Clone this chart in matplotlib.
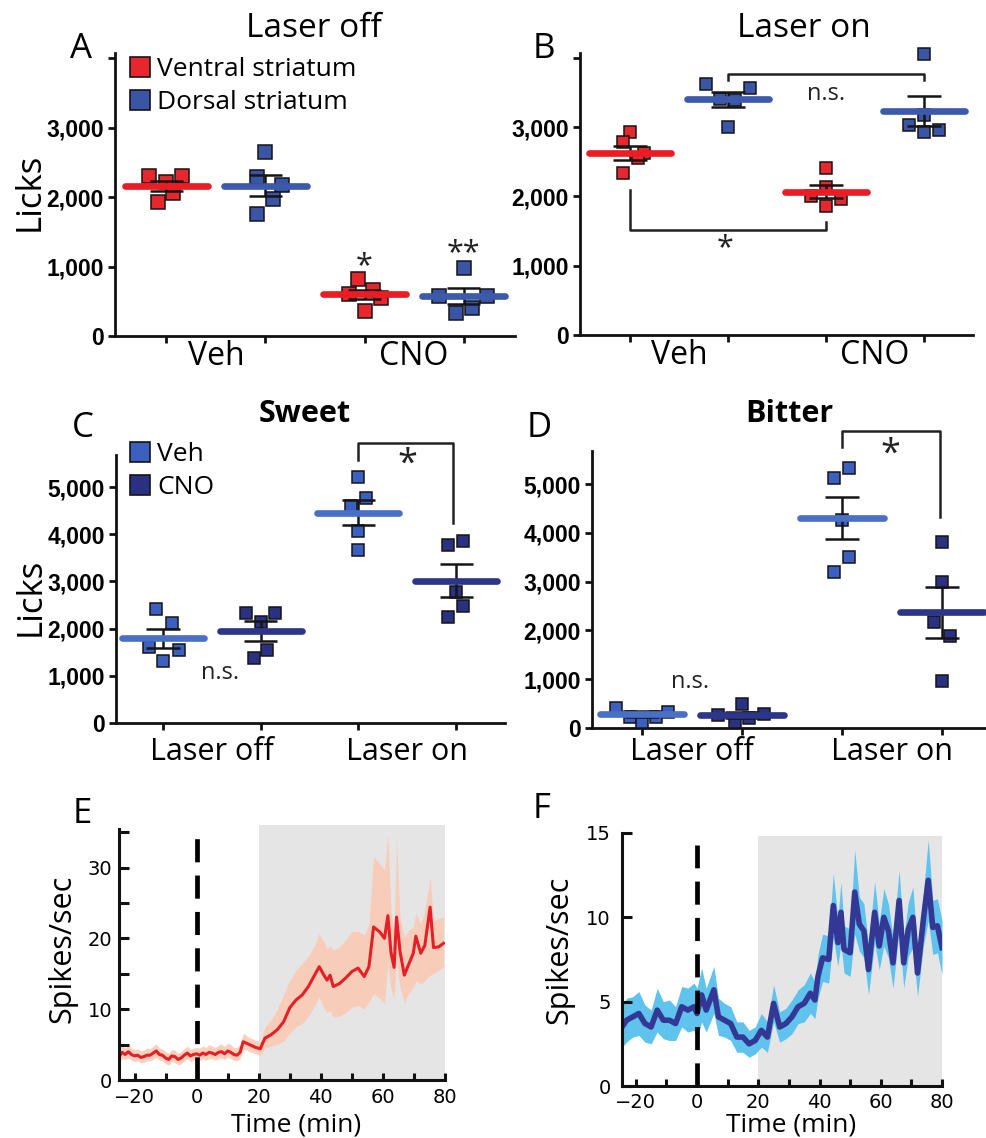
import matplotlib
matplotlib.use('Agg')
import matplotlib.pyplot as plt
from matplotlib.lines import Line2D
from matplotlib.ticker import FixedLocator, MultipleLocator, NullFormatter
import numpy as np

# ------------------------------------------------------------------ data
# Panel A : Laser off  (order: Veh-ventral, Veh-dorsal, CNO-ventral, CNO-dorsal)
a_values = [[2306, 2220, 2306, 1932, 2062],
            [2648, 2288, 2172, 1971, 1755],
            [820, 660, 600, 550, 360],
            [980, 575, 575, 403, 331]]
a_jitter = [[-0.18, 0.0, 0.16, -0.09, 0.07],
            [0.0, -0.09, 0.17, 0.08, -0.09],
            [-0.07, 0.09, -0.16, 0.17, 0.0],
            [0.0, -0.25, 0.24, 0.09, -0.08]]
a_means = [2160, 2160, 600, 575]
a_sems = [70, 150, 65, 110]

# Panel B : Laser on
b_values = [[2930, 2785, 2620, 2550, 2337],
            [3620, 3560, 3400, 3390, 3000],
            [2410, 2130, 2000, 1960, 1860],
            [4050, 3170, 3030, 2960, 2930]]
b_jitter = [[0.0, -0.07, 0.14, 0.08, -0.07],
            [-0.22, 0.22, -0.08, 0.07, 0.0],
            [0.0, 0.0, -0.15, 0.15, 0.0],
            [0.0, 0.0, -0.15, 0.15, 0.0]]
b_means = [2630, 3400, 2070, 3230]
b_sems = [100, 110, 95, 215]

# Panel C : Sweet  (order: Off-Veh, Off-CNO, On-Veh, On-CNO)
c_values = [[2415, 2118, 1617, 1547, 1313],
            [2330, 2330, 2140, 1547, 1377],
            [5210, 4770, 4600, 4070, 3665],
            [3860, 3770, 2770, 2480, 2250]]
c_jitter = [[-0.07, 0.09, -0.14, 0.16, 0.0],
            [-0.15, 0.15, 0.0, 0.07, -0.07],
            [0.0, 0.08, -0.08, 0.0, 0.0],
            [0.07, -0.08, 0.0, 0.07, -0.08]]
c_means = [1800, 1950, 4460, 3020]
c_sems = [200, 205, 265, 345]

# Panel D : Bitter
d_values = [[410, 230, 130, 225, 335],
            [490, 265, 130, 210, 280],
            [5330, 5120, 4270, 3500, 3200],
            [3810, 2990, 2170, 1880, 960]]
d_jitter = [[-0.26, -0.12, 0.0, 0.14, 0.26],
            [0.0, -0.24, -0.07, 0.07, 0.22],
            [0.07, -0.08, 0.0, 0.07, -0.08],
            [0.0, 0.0, -0.08, 0.08, 0.0]]
d_means = [285, 270, 4300, 2370]
d_sems = [60, 65, 430, 530]

ab_groups = ['Veh', 'CNO']
cd_groups = ['Laser off', 'Laser on']
ab_series = ['Ventral striatum', 'Dorsal striatum']
cd_series = ['Veh', 'CNO']
licks_ticks_ab = [0, 1000, 2000, 3000, 4000]
licks_labels_ab = ['0', '1,000', '2,000', '3,000', '']
licks_ticks_cd = [0, 1000, 2000, 3000, 4000, 5000]
licks_labels_cd = ['0', '1,000', '2,000', '3,000', '4,000', '5,000']

# Panel E : ventral striatum firing rate (Spikes/sec) vs time (min)
e_time = [-25, -24, -23, -22, -21, -20, -19, -18, -17, -16, -15, -14, -13, -12, -11, -10, -9, -8, -7, -6,
          -5, -4, -3, -2, -1, 0, 1, 2, 3, 4, 5, 6, 7, 8, 9, 10, 11, 12, 13, 14,
          15, 17, 19, 20.5, 22, 24, 26, 28, 30, 32, 34, 36, 38, 39.5, 41, 42, 43, 44, 46, 48,
          50, 52, 54, 55.5, 57, 59, 60.5, 61.6, 62.6, 63.6, 64.4, 65.5, 66.9, 68, 69.8, 70.6,
          72.2, 73.5, 75.2, 76.3, 78, 79.5]
e_mean = [3.3, 3.9, 3.6, 4.0, 3.6, 3.4, 3.5, 3.2, 3.3, 3.5, 3.5, 3.8, 4.1, 3.6, 3.5, 3.1, 2.9, 3.4, 3.3, 2.9,
          3.1, 3.5, 3.8, 3.4, 3.6, 3.7, 3.5, 3.8, 3.6, 3.9, 3.8, 3.6, 3.9, 4.0, 3.7, 4.1, 3.9, 3.6, 3.5, 3.9,
          5.4, 5.0, 4.6, 4.4, 5.9, 6.4, 7.1, 8.2, 10.2, 11.3, 12.0, 13.2, 14.8, 16.0, 14.8, 14.1, 14.8, 13.2, 13.6, 14.4,
          15.3, 15.8, 14.6, 16.0, 21.6, 20.9, 20.0, 23.2, 18.0, 15.9, 23.0, 18.2, 14.8, 16.0, 17.9, 20.3,
          17.9, 19.0, 24.4, 18.7, 18.8, 19.3]
e_low = [2.6, 3.0, 2.9, 3.1, 2.8, 2.6, 2.7, 2.4, 2.5, 2.7, 2.7, 2.9, 3.2, 2.8, 2.7, 2.3, 2.1, 2.6, 2.5, 2.1,
         2.3, 2.7, 3.0, 2.6, 2.8, 2.9, 2.7, 3.0, 2.8, 3.0, 3.0, 2.8, 3.0, 3.1, 2.9, 3.2, 3.0, 2.8, 2.7, 3.0,
         4.4, 4.0, 3.7, 3.5, 4.5, 4.8, 5.0, 5.5, 6.6, 7.5, 8.0, 9.0, 10.5, 11.7, 10.2, 9.5, 9.8, 8.9, 9.0, 9.5,
         10.3, 10.5, 10.0, 11.0, 12.2, 11.5, 10.8, 16.4, 12.7, 11.5, 16.9, 13.0, 11.0, 12.0, 13.1, 14.0,
         13.5, 14.0, 14.8, 15.0, 15.5, 15.9]
e_high = [4.2, 4.9, 4.5, 5.0, 4.5, 4.3, 4.4, 4.1, 4.2, 4.5, 4.4, 4.8, 5.1, 4.5, 4.4, 4.0, 3.8, 4.3, 4.2, 3.8,
          4.0, 4.4, 4.8, 4.3, 4.5, 4.6, 4.5, 4.8, 4.6, 5.0, 4.8, 4.6, 4.9, 5.1, 4.7, 5.2, 5.0, 4.6, 4.6, 5.0,
          6.6, 6.0, 5.6, 5.4, 7.5, 8.5, 10.0, 12.0, 14.1, 15.5, 16.5, 17.5, 19.0, 20.7, 19.5, 18.5, 19.0, 18.3, 18.8, 19.8,
          21.0, 21.0, 20.5, 22.0, 31.5, 30.5, 29.6, 34.7, 24.0, 21.0, 33.8, 23.0, 20.0, 21.0, 21.6, 23.5,
          22.0, 24.0, 28.7, 22.5, 22.8, 23.0]

# Panel F : dorsal striatum firing rate
f_time = [-24.5, -23, -21, -19, -17, -15, -13, -11, -9, -7, -5, -3, -1, 0, 1.5, 3, 5.5, 7, 9, 11,
          13, 15, 17, 19, 21, 23, 25, 27, 29, 31, 33, 35, 37, 38.5, 39.5, 41, 43, 44.5, 46, 47,
          48, 50, 51.5, 53, 54.5, 56, 58, 59.5, 61, 62.5, 64, 66, 67.5, 69, 70.5, 72, 74, 75.5, 77, 78.5, 80]
f_mean = [3.5, 3.9, 4.1, 4.3, 3.7, 3.5, 4.5, 3.9, 3.9, 3.7, 4.7, 4.5, 4.7, 4.3, 5.4, 4.5, 5.7, 4.1, 3.9, 3.7,
          2.9, 2.9, 2.5, 2.7, 3.3, 2.9, 4.9, 3.5, 3.7, 4.1, 4.7, 4.9, 5.5, 5.1, 6.5, 7.6, 7.5, 10.7, 8.5, 10.3,
          8.1, 7.9, 11.5, 9.6, 9.2, 6.9, 10.3, 8.3, 10.0, 9.2, 7.3, 11.0, 7.3, 9.3, 10.0, 6.7, 10.0, 12.2, 9.4, 9.5, 8.2]
f_sem = [1.2, 1.3, 1.2, 1.3, 1.1, 1.0, 1.3, 1.1, 1.2, 1.0, 1.2, 1.3, 1.4, 1.5, 1.6, 1.3, 1.4, 1.1, 1.0, 1.0,
         0.9, 0.9, 0.8, 0.8, 1.0, 0.9, 1.1, 0.9, 0.9, 1.0, 1.0, 1.1, 1.2, 1.1, 1.3, 1.4, 1.4, 1.9, 1.4, 1.8,
         1.4, 1.4, 2.5, 1.6, 1.6, 1.5, 1.8, 1.4, 1.7, 1.6, 1.5, 1.8, 1.5, 1.6, 1.8, 1.4, 1.6, 2.4, 1.6, 1.6, 1.6]

# ------------------------------------------------------------------ style
FONT = 'Open Sans'
TICKFONT = 'Liberation Sans'
RED = '#e8262d'
BLUE = '#3b55a6'
VEH = '#3b60bf'
CNO = '#2a3183'
EDGE = '#151515'

W, H = 987, 1138
fig = plt.figure(figsize=(W / 100, H / 100), dpi=100)


def add_ax(l, t, r, b):
    return fig.add_axes([l / W, 1 - b / H, (r - l) / W, (b - t) / H])


def ftext(x, y, s, **kw):
    kw.setdefault('family', FONT)
    return fig.text(x / W, 1 - y / H, s, **kw)


def dot_panel(ax, values, jitter, means, sems, colors, mean_colors, ms):
    for i in range(len(values)):
        xs = i + np.array(jitter[i])
        ax.plot(xs, values[i], ls='none', marker='s', ms=ms, mfc=colors[i], mec=EDGE,
                mew=1.1, zorder=3, clip_on=False)
        m, s = means[i], sems[i]
        ax.vlines(i, m - s, m + s, color=EDGE, lw=1.8, zorder=4)
        ax.hlines([m - s, m + s], i - 0.17, i + 0.17, color=EDGE, lw=1.8, zorder=4)
        ax.plot([i - 0.42, i + 0.42], [m, m], color=mean_colors[i], lw=4.8,
                solid_capstyle='round', zorder=5)


def style_licks(ax, xlim, ymax, ticks, labels, groups, grp_size, grp_pad):
    ax.set_xlim(*xlim)
    ax.set_ylim(0, ymax)
    for s in ['top', 'right']:
        ax.spines[s].set_visible(False)
    for s in ['left', 'bottom']:
        ax.spines[s].set_linewidth(2.0)
        ax.spines[s].set_color('#111111')
    ax.set_yticks(ticks)
    ax.set_yticklabels(labels, family=TICKFONT, weight='bold', fontsize=16.5)
    ax.set_xticks([0, 1, 2, 3])
    ax.set_xticklabels([])
    ax.set_xticks([0.5, 2.5], minor=True)
    ax.set_xticklabels(groups, minor=True, family=FONT, fontsize=grp_size, va='baseline')
    ax.tick_params(which='major', direction='out', length=5, width=2, color='#111111', pad=3)
    ax.tick_params(axis='x', which='minor', length=0, pad=grp_pad)


# ------------------------------------------------------------------ A
axA = add_ax(115, 53, 515, 336)
dot_panel(axA, a_values, a_jitter, a_means, a_sems, [RED, BLUE, RED, BLUE],
          ['#ec1c24', '#3c59ab', '#ec1c24', '#3c59ab'], 10.5)
style_licks(axA, (-0.52, 3.52), 4072, licks_ticks_ab, licks_labels_ab, ab_groups, 23, 21)
axA.text(2, 1000, '*', ha='center', va='center', fontsize=22, family=FONT, color='#222')
axA.text(3, 1190, '**', ha='center', va='center', fontsize=22, family=FONT, color='#222')
hA = [Line2D([], [], ls='none', marker='s', ms=15, mfc=c, mec=EDGE, mew=1.2) for c in [RED, BLUE]]
axA.legend(hA, ab_series, loc='upper left', bbox_to_anchor=(128 / W, 1 - 57 / H),
           bbox_transform=fig.transFigure, frameon=False, borderpad=0, borderaxespad=0,
           handlelength=0.9, handletextpad=0.2, labelspacing=0.3,
           prop={'family': FONT, 'size': 19})

# ------------------------------------------------------------------ B
axB = add_ax(580, 53, 973, 335)
dot_panel(axB, b_values, b_jitter, b_means, b_sems, [RED, BLUE, RED, BLUE],
          ['#ec1c24', '#3c59ab', '#ec1c24', '#3c59ab'], 9)
style_licks(axB, (-0.51, 3.5), 4070, licks_ticks_ab, licks_labels_ab, ab_groups, 23, 21)
axB.plot([1, 1, 3, 3], [3680, 3765, 3765, 3680], color='#222', lw=1.8, clip_on=False)
axB.text(2.0, 3480, 'n.s.', ha='center', va='center', fontsize=17, family=FONT, color='#222')
axB.plot([0, 0, 2, 2], [2090, 1515, 1515, 1630], color='#222', lw=1.8, clip_on=False)
axB.text(0.97, 1250, '*', ha='center', va='center', fontsize=22, family=FONT, color='#222')

# ------------------------------------------------------------------ C
axC = add_ax(116, 455, 505, 723)
dot_panel(axC, c_values, c_jitter, c_means, c_sems, [VEH, CNO, VEH, CNO],
          ['#4a6fc6', '#2d3589', '#4a6fc6', '#2d3589'], 9)
style_licks(axC, (-0.48, 3.5), 5680, licks_ticks_cd, licks_labels_cd, cd_groups, 22, 27)
axC.plot([2, 2, 2.97, 2.97], [5570, 5930, 5930, 4240], color='#222', lw=1.8, clip_on=False)
axC.text(2.5, 5470, '*', ha='center', va='center', fontsize=26, family=FONT, color='#222')
axC.text(0.58, 1060, 'n.s.', ha='center', va='center', fontsize=17, family=FONT, color='#222')
hC = [Line2D([], [], ls='none', marker='s', ms=15, mfc=c, mec=EDGE, mew=1.2) for c in [VEH, CNO]]
axC.legend(hC, cd_series, loc='upper left', bbox_to_anchor=(128 / W, 1 - 442 / H),
           bbox_transform=fig.transFigure, frameon=False, borderpad=0, borderaxespad=0,
           handlelength=0.9, handletextpad=0.2, labelspacing=0.3,
           prop={'family': FONT, 'size': 19})

# ------------------------------------------------------------------ D
axD = add_ax(592, 451, 987, 728)
dot_panel(axD, d_values, d_jitter, d_means, d_sems, [VEH, CNO, VEH, CNO],
          ['#4a6fc6', '#2d3589', '#4a6fc6', '#2d3589'], 9)
style_licks(axD, (-0.5, 3.45), 5680, licks_ticks_cd, licks_labels_cd, cd_groups, 22, 23)
axD.plot([2, 2, 2.98, 2.98], [5760, 6090, 6090, 4320], color='#222', lw=1.8, clip_on=False)
axD.text(2.48, 5600, '*', ha='center', va='center', fontsize=26, family=FONT, color='#222')
axD.text(0.48, 940, 'n.s.', ha='center', va='center', fontsize=17, family=FONT, color='#222')


# ------------------------------------------------------------------ E / F
def style_time(ax, xmin, ymax, ybound, ymajor, yminor, ypad, xpad):
    ax.set_xlim(xmin, 80)
    ax.set_ylim(0, ymax)
    for s in ['top', 'right']:
        ax.spines[s].set_visible(False)
    for s in ['left', 'bottom']:
        ax.spines[s].set_linewidth(2.2)
        ax.spines[s].set_color('#111111')
        ax.spines[s].set_zorder(6)
    ax.spines['left'].set_bounds(0, ybound)
    ax.xaxis.set_major_locator(FixedLocator([-20, 0, 20, 40, 60, 80]))
    ax.xaxis.set_minor_locator(FixedLocator([-10, 10, 30, 50, 70]))
    ax.yaxis.set_major_locator(MultipleLocator(ymajor))
    ax.yaxis.set_minor_locator(MultipleLocator(yminor))
    ax.yaxis.set_minor_formatter(NullFormatter())
    ax.tick_params(which='both', direction='in', width=2.2, color='#111111', labelsize=14)
    ax.tick_params(axis='x', which='both', length=5, pad=xpad)
    ax.tick_params(axis='y', which='both', length=7, pad=ypad)
    for lab in ax.get_xticklabels() + ax.get_yticklabels():
        lab.set_family('DejaVu Sans')
    ax.set_axisbelow(False)


axE = add_ax(119, 825, 445, 1080)
axE.axvspan(20, 80, color='#e5e5e5', lw=0, zorder=0)
axE.fill_between(e_time, e_low, e_high, color='#fbc9b3', alpha=0.85, lw=0, zorder=1)
axE.plot(e_time, e_mean, color='#e51f26', lw=2.2, zorder=2)
axE.plot([0, 0], [0, 35.6], color='black', lw=3.4, ls=(0, (4.9, 2.8)), zorder=3, clip_on=False)
style_time(axE, -25, 36, 35.4, 10, 5, 5, 6)

axF = add_ax(622, 833, 942, 1086)
axF.axvspan(20, 80, ymax=14.85 / 15, color='#e5e5e5', lw=0, zorder=0)
axF.fill_between(f_time, np.array(f_mean) - np.array(f_sem), np.array(f_mean) + np.array(f_sem),
                 color='#5fc3ee', lw=0, zorder=1)
axF.plot(f_time, f_mean, color='#333894', lw=4.0, zorder=2)
axF.plot([0, 0], [0, 14.3], color='black', lw=3.4, ls=(0, (4.9, 2.8)), zorder=3, clip_on=False)
style_time(axF, -24.5, 15, 15, 5, 5, 8, 5)

# ------------------------------------------------------------------ texts
ftext(314, 37, 'Laser off', ha='center', va='baseline', fontsize=24)
ftext(804, 37, 'Laser on', ha='center', va='baseline', fontsize=24)
ftext(305, 422, 'Sweet', ha='center', va='baseline', fontsize=22, weight='bold')
ftext(789, 422, 'Bitter', ha='center', va='baseline', fontsize=22, weight='bold')
for x, y, s in [(70, 58, 'A'), (533, 58, 'B'), (72, 437, 'C'), (527, 437, 'D'),
                (73, 823, 'E'), (533, 818, 'F')]:
    ftext(x, y, s, ha='left', va='baseline', fontsize=25)
ftext(30, 192, 'Licks', ha='center', va='center', rotation=90, fontsize=25)
ftext(31, 597, 'Licks', ha='center', va='center', rotation=90, fontsize=25)
ftext(62, 949, 'Spikes/sec', ha='center', va='center', rotation=90, fontsize=22)
ftext(559, 950, 'Spikes/sec', ha='center', va='center', rotation=90, fontsize=22)
ftext(296, 1131, 'Time (min)', ha='center', va='baseline', fontsize=19)
ftext(791, 1131, 'Time (min)', ha='center', va='baseline', fontsize=19)

fig.savefig('out.png', dpi=100, facecolor='white')
